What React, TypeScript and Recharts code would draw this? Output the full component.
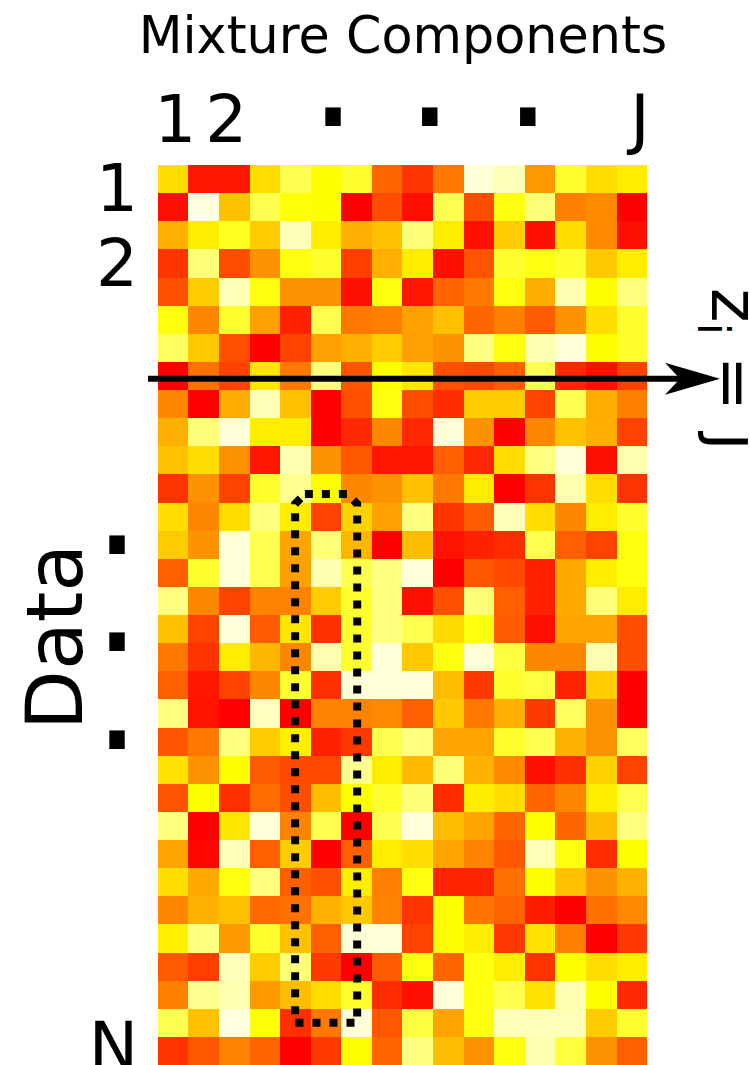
import React from "react";
import { ScatterChart, Scatter, XAxis, YAxis } from "recharts";

// 0 = red, 70 = yellow, 100 = near white
const heatRows: number[][] = [
  [61, 6, 6, 61, 80, 70, 76, 28, 14, 33, 97, 93, 42, 76, 61, 65],
  [4, 98, 53, 80, 71, 70, 0, 21, 4, 80, 21, 72, 85, 35, 38, 0],
  [48, 65, 74, 56, 93, 65, 48, 53, 85, 65, 4, 56, 4, 61, 38, 4],
  [14, 85, 21, 40, 72, 76, 17, 48, 65, 4, 23, 76, 72, 76, 55, 65],
  [22, 56, 93, 72, 40, 40, 4, 72, 6, 28, 33, 72, 47, 92, 70, 86],
  [72, 37, 76, 44, 9, 80, 33, 35, 44, 53, 28, 35, 25, 40, 61, 76],
  [82, 55, 22, 0, 18, 44, 48, 56, 44, 40, 86, 72, 92, 97, 70, 76],
  [0, 31, 18, 63, 33, 86, 23, 70, 63, 22, 20, 26, 80, 11, 4, 18],
  [37, 0, 47, 93, 53, 0, 22, 72, 21, 12, 56, 56, 18, 80, 47, 35],
  [48, 85, 97, 65, 65, 0, 11, 37, 11, 97, 40, 0, 37, 53, 48, 18],
  [53, 61, 40, 6, 92, 40, 24, 6, 6, 26, 11, 61, 86, 97, 4, 92],
  [14, 40, 18, 76, 88, 70, 37, 40, 53, 33, 65, 0, 14, 92, 61, 14],
  [61, 37, 61, 86, 65, 18, 58, 44, 86, 14, 25, 93, 61, 37, 65, 76],
  [56, 40, 97, 80, 45, 85, 50, 0, 52, 5, 9, 12, 80, 26, 18, 72],
  [26, 76, 97, 80, 44, 92, 80, 86, 97, 0, 24, 20, 9, 46, 65, 72],
  [86, 37, 18, 36, 36, 56, 76, 86, 4, 22, 85, 26, 9, 46, 85, 65],
  [53, 18, 97, 25, 63, 13, 76, 86, 80, 60, 72, 25, 4, 45, 45, 21],
  [33, 14, 65, 50, 37, 92, 76, 97, 55, 72, 97, 78, 37, 37, 92, 21],
  [26, 6, 18, 37, 76, 13, 97, 97, 97, 52, 16, 76, 78, 10, 56, 0],
  [86, 5, 0, 94, 0, 36, 36, 38, 26, 55, 33, 48, 16, 82, 40, 0],
  [23, 33, 86, 56, 66, 9, 15, 80, 86, 45, 45, 76, 80, 49, 40, 82],
  [62, 40, 70, 25, 20, 20, 88, 65, 51, 85, 49, 38, 4, 13, 58, 18],
  [23, 70, 13, 30, 21, 52, 70, 76, 85, 12, 65, 61, 28, 37, 65, 80],
  [86, 0, 63, 97, 36, 80, 0, 80, 97, 52, 45, 28, 70, 28, 52, 86],
  [45, 2, 93, 26, 56, 0, 26, 65, 61, 45, 36, 24, 93, 72, 12, 70],
  [61, 46, 72, 86, 26, 22, 65, 35, 72, 10, 10, 31, 70, 53, 40, 49],
  [37, 49, 53, 29, 31, 49, 55, 36, 14, 70, 32, 27, 8, 0, 31, 38],
  [66, 86, 42, 76, 53, 26, 97, 97, 18, 70, 65, 15, 62, 35, 0, 15],
  [25, 17, 93, 56, 85, 16, 0, 25, 72, 28, 72, 65, 14, 70, 61, 65],
  [35, 88, 92, 42, 52, 61, 76, 12, 4, 97, 72, 80, 62, 92, 70, 11],
  [80, 53, 98, 71, 13, 33, 97, 24, 78, 45, 72, 93, 93, 93, 56, 76],
  [14, 24, 36, 28, 0, 16, 70, 28, 86, 52, 40, 72, 92, 78, 40, 26],
];

const xTickValues = [0.57, 2.24, 5.73, 8.9, 12.1, 15.77];
const xTickLabels = ["1", "2", ".", ".", ".", "J"];
const yTickValues = [0.78, 3.45, 13.5, 16.95, 20.45, 31.3];
const yTickLabels = ["1", "2", ".", ".", ".", "N"];

// dotted box around one mixture component, in column / row units
const boxPath = [
  { col: 4.81, row: 11.7 },
  { col: 6.2, row: 11.7 },
  { col: 6.52, row: 12.05 },
  { col: 6.52, row: 30.5 },
  { col: 4.49, row: 30.5 },
  { col: 4.49, row: 12.05 },
  { col: 4.81, row: 11.7 },
];
// arrow across row 8: tail and end of shaft
const arrowPath = [
  { col: -0.32, row: 7.6 },
  { col: 17.73, row: 7.6, head: true },
];

const FONT = "DejaVu Sans";
const WIDTH = 750;
const HEIGHT = 1065;
const AXIS_H = 100;
const AXIS_W = 100;
// the x domain reaches past the 16 columns so the arrow fits inside the plot
const X_DOMAIN = [-0.32, 17.73];
const M = { top: 65, left: 48, right: 50, bottom: 0 };
const CELL_W = (WIDTH - M.left - AXIS_W - M.right) / (X_DOMAIN[1] - X_DOMAIN[0]);
const CELL_H = (HEIGHT - M.top - AXIS_H - M.bottom) / 32;

const cells = heatRows.flatMap((vals, r) => vals.map((v, c) => ({ col: c + 0.5, row: r + 0.5, v })));

function heatColor(v: number) {
  const g = Math.min(255, Math.round((v / 70) * 255));
  const b = v > 70 ? Math.round(((v - 70) / 30) * 240) : 0;
  return `rgb(255,${g},${b})`;
}

function HeatCell(p: any) {
  return (
    <rect
      x={p.cx - CELL_W / 2}
      y={p.cy - CELL_H / 2}
      width={CELL_W}
      height={CELL_H}
      fill={heatColor(p.payload.v)}
      shapeRendering="crispEdges"
    />
  );
}

function NoMark() {
  return <g />;
}

function ArrowHead(p: any) {
  if (!p.payload.head) return <g />;
  const x = p.cx + 20;
  const y = p.cy;
  return <path d={`M${x} ${y} L${x - 55} ${y - 16} L${x - 40} ${y} L${x - 55} ${y + 16} Z`} fill="#000" />;
}

function XTick({ x, index }: any) {
  const label = xTickLabels[index];
  if (label === ".") {
    return (
      <text x={x} y={126} fontFamily={FONT} fontSize={150} textAnchor="middle" fill="#000">
        .
      </text>
    );
  }
  return (
    <text x={x} y={142} fontFamily={FONT} fontSize={66} textAnchor="middle" fill="#000">
      {label}
    </text>
  );
}

function YTick({ y, index }: any) {
  const label = yTickLabels[index];
  if (label === ".") {
    return (
      <text x={117} y={y + 9} fontFamily={FONT} fontSize={150} textAnchor="middle" fill="#000">
        .
      </text>
    );
  }
  return (
    <text x={138} y={y + 24} fontFamily={FONT} fontSize={66} textAnchor="end" fill="#000">
      {label}
    </text>
  );
}

export default function App() {
  return (
    <div style={{ position: "absolute", left: 0, top: 0, width: WIDTH, height: HEIGHT, overflow: "hidden" }}>
      <ScatterChart width={WIDTH} height={HEIGHT} margin={M}>
        <XAxis
          type="number"
          dataKey="col"
          orientation="top"
          domain={X_DOMAIN}
          ticks={xTickValues}
          interval={0}
          tick={<XTick />}
          tickLine={false}
          axisLine={false}
          height={AXIS_H}
        />
        <YAxis
          type="number"
          dataKey="row"
          reversed
          domain={[0, 32]}
          ticks={yTickValues}
          interval={0}
          tick={<YTick />}
          tickLine={false}
          axisLine={false}
          width={AXIS_W}
        />
        <Scatter data={cells} shape={<HeatCell />} isAnimationActive={false} />
        <Scatter
          data={boxPath}
          line={{ stroke: "#000", strokeWidth: 8, strokeDasharray: "8 9" }}
          shape={<NoMark />}
          isAnimationActive={false}
        />
        <Scatter
          data={arrowPath}
          line={{ stroke: "#000", strokeWidth: 6 }}
          shape={<ArrowHead />}
          isAnimationActive={false}
        />
        <text x={403} y={53} fontFamily={FONT} fontSize={50.8} textAnchor="middle" fill="#000">
          Mixture Components
        </text>
        <text
          x={0}
          y={0}
          transform="translate(82 637) rotate(-90)"
          fontFamily={FONT}
          fontSize={78}
          textAnchor="middle"
          fill="#000"
        >
          Data
        </text>
        <text x={0} y={0} transform="translate(712 288) rotate(90)" fontFamily={FONT} fontSize={66} fill="#000">
          z
          <tspan fontSize={44} dy={14}>
            i
          </tspan>
          <tspan dy={-14}> = j</tspan>
        </text>
      </ScatterChart>
    </div>
  );
}
